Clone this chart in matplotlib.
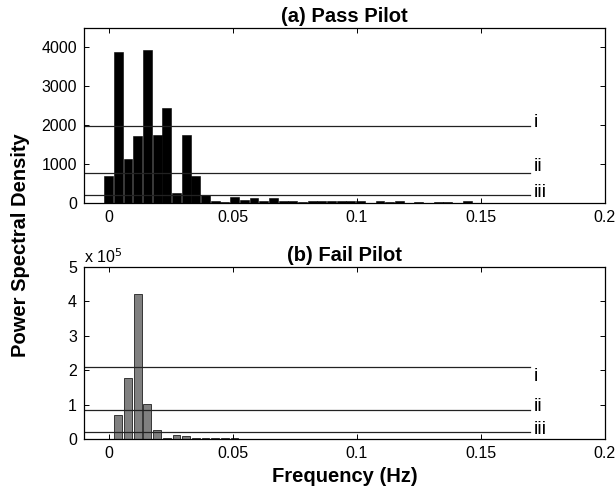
import numpy as np
import matplotlib
matplotlib.use('Agg')
import matplotlib.pyplot as plt
from matplotlib.ticker import FuncFormatter

plt.rcParams['font.family'] = ['Liberation Sans', 'DejaVu Sans']

# FFT bin spacing (Hz) and PSD per bin
df = 1.0 / 256

# pass pilot PSD
psd_pass = [707, 3888, 1129, 1724, 3931, 1750, 2431, 250, 1759, 707,
            215, 60, 20, 150, 75, 130, 55, 130, 50, 50,
            15, 45, 45, 45, 45, 50, 45, 10, 40, 15,
            40, 10, 15, 10, 25, 20, 8, 55, 8, 6,
            5, 5, 5, 5, 5, 5, 5, 5, 5, 5, 5, 5]
# fail pilot PSD
psd_fail = [500, 0.71e5, 1.79e5, 4.22e5, 1.03e5, 0.27e5, 0.04e5, 0.125e5, 0.09e5, 0.04e5,
            0.04e5, 0.045e5, 0.04e5, 0.04e5, 0.01e5, 0.008e5, 0.008e5, 0.008e5, 0.008e5, 0.008e5,
            0.006e5, 0.006e5, 0.006e5, 0.006e5, 0.006e5, 0.006e5, 0.006e5, 0.006e5, 0.006e5, 0.006e5,
            0.006e5, 0.006e5, 0.006e5, 0.006e5, 0.006e5, 0.006e5, 0.006e5, 0.006e5, 0.006e5, 0.006e5,
            0.006e5, 0.006e5, 0.006e5, 0.006e5, 0.006e5, 0.006e5, 0.006e5, 0.006e5, 0.006e5, 0.006e5,
            0.006e5, 0.006e5]

# threshold levels i, ii, iii
thr_pass = [1975, 770, 195]
thr_fail = [2.10e5, 0.84e5, 0.21e5]
thr_names = ['i', 'ii', 'iii']
# where the threshold names sit
lab_pass = [2076, 938, 258]
lab_fail = [1.82e5, 0.95e5, 0.27e5]

f_pass = np.arange(len(psd_pass)) * df
f_fail = np.arange(len(psd_fail)) * df

fig = plt.figure(figsize=(6.16, 4.90), dpi=100)
ax1 = fig.add_axes([0.136, 0.5857, 0.846, 0.3572])
ax2 = fig.add_axes([0.136, 0.1035, 0.846, 0.3516])


def style(ax):
    ax.set_xlim(-0.01, 0.2)
    ax.set_xticks([0, 0.05, 0.1, 0.15, 0.2])
    ax.xaxis.set_major_formatter(FuncFormatter(lambda v, p: '%g' % v))
    ax.tick_params(direction='in', length=3.5, width=0.7, top=True, right=True,
                   labelsize=11.5, pad=5)
    for s in ax.spines.values():
        s.set_linewidth(0.9)


ax1.bar(f_pass, psd_pass, width=0.92 * df, color='black', edgecolor='black', linewidth=0.4)
for t, ly, nm in zip(thr_pass, lab_pass, thr_names):
    ax1.plot([-0.01, 0.17], [t, t], color='#222222', lw=0.9)
    ax1.text(0.1715, ly, nm, fontsize=14, va='center', ha='left')
ax1.set_ylim(0, 4500)
ax1.set_yticks([0, 1000, 2000, 3000, 4000])
style(ax1)
ax1.set_title('(a) Pass Pilot', fontsize=14.5, fontweight='bold', pad=4)

ax2.bar(f_fail, psd_fail, width=0.8 * df, color='#808080', edgecolor='black', linewidth=0.5)
for t, ly, nm in zip(thr_fail, lab_fail, thr_names):
    ax2.plot([-0.01, 0.17], [t, t], color='#222222', lw=0.9)
    ax2.text(0.1715, ly, nm, fontsize=14, va='center', ha='left')
ax2.set_ylim(0, 5e5)
ax2.set_yticks([0, 1e5, 2e5, 3e5, 4e5, 5e5])
ax2.yaxis.set_major_formatter(FuncFormatter(lambda v, p: '%g' % (v / 1e5)))
style(ax2)
ax2.set_title('(b) Fail Pilot', fontsize=14.5, fontweight='bold', pad=4)
ax2.text(0.0, 1.005, r'x 10$^5$', transform=ax2.transAxes, fontsize=11.5, va='bottom', ha='left')

fig.text(0.033, 0.5, 'Power Spectral Density', rotation=90, fontsize=14.5,
         fontweight='bold', ha='center', va='center')
fig.text(0.559, 0.027, 'Frequency (Hz)', fontsize=14.5, fontweight='bold',
         ha='center', va='center')

fig.savefig('out.png', dpi=100)
